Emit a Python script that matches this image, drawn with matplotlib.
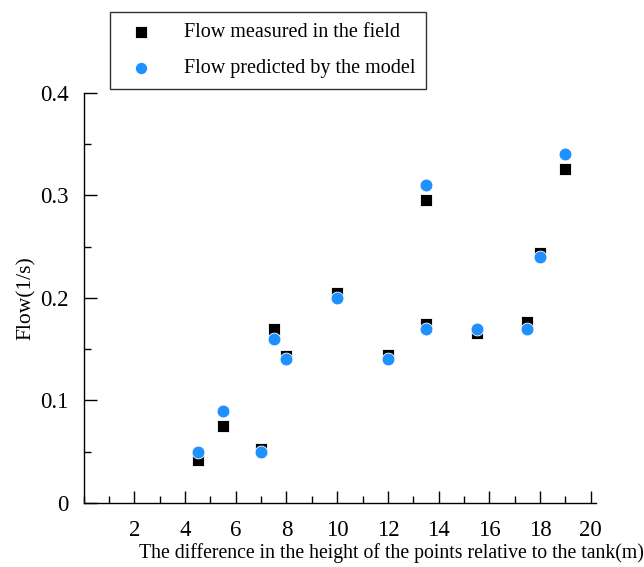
import numpy as np
import matplotlib.pyplot as plt
from matplotlib.ticker import MultipleLocator

# heights relative to the tank (m)
height = [4.5, 5.5, 7, 7.5, 8, 10, 12, 13.5, 13.5, 15.5, 17.5, 18, 19]
# flow measured in the field (l/s)
flow_measured = [0.042, 0.075, 0.053, 0.170, 0.143, 0.205, 0.144, 0.296, 0.175, 0.166, 0.177, 0.244, 0.326]
# flow predicted by the model (l/s)
flow_model = [0.050, 0.090, 0.050, 0.160, 0.140, 0.200, 0.140, 0.310, 0.170, 0.170, 0.170, 0.240, 0.340]

x_ticks = [2, 4, 6, 8, 10, 12, 14, 16, 18, 20]
y_ticks = [0, 0.1, 0.2, 0.3, 0.4]
y_tick_labels = ['0', '0.1', '0.2', '0.3', '0.4']

plt.rcParams['font.family'] = ['Liberation Serif', 'DejaVu Serif']

fig = plt.figure(figsize=(6.44, 5.67), dpi=100)
ax = fig.add_axes([0.130, 0.113, 0.795, 0.723])

ax.scatter(height, flow_measured, marker='s', s=80, color='black',
           edgecolors='white', linewidths=0.6, label='Flow measured in the field', zorder=3)
ax.scatter(height, flow_model, marker='o', s=85, color='#1E90FF',
           edgecolors='white', linewidths=0.6, label='Flow predicted by the model', zorder=4)

ax.set_xlim(0, 20.2)
ax.set_ylim(0, 0.4)
ax.set_xticks(x_ticks)
ax.xaxis.set_minor_locator(MultipleLocator(1))
ax.set_yticks(y_ticks)
ax.set_yticklabels(y_tick_labels)
ax.yaxis.set_minor_locator(MultipleLocator(0.05))

ax.spines['top'].set_visible(False)
ax.spines['right'].set_visible(False)
for side in ['left', 'bottom']:
    ax.spines[side].set_linewidth(1.0)

ax.tick_params(axis='x', which='major', direction='in', length=9, width=1, pad=12, labelsize=16.5)
ax.tick_params(axis='x', which='minor', direction='in', length=5, width=1)
ax.tick_params(axis='y', which='major', direction='in', length=9, width=1, pad=11, labelsize=16.5)
ax.tick_params(axis='y', which='minor', direction='in', length=5, width=1)

# x label runs past the right end of the axis, as in the original
fig.text(1.0, 0.024, 'The difference in the height of the points relative to the tank(m)',
         fontsize=14.2, ha='right', va='center')
ax.set_ylabel('Flow(1/s)', fontsize=15.5, labelpad=3)

leg = fig.legend(loc='upper left', bbox_to_anchor=(0.171, 0.979), borderaxespad=0, fontsize=14.5,
                 frameon=True, fancybox=False, edgecolor='black', borderpad=0.55,
                 handletextpad=1.1, labelspacing=0.85, markerscale=0.95)
leg.get_frame().set_linewidth(1.0)

plt.savefig('out.png', dpi=100)
